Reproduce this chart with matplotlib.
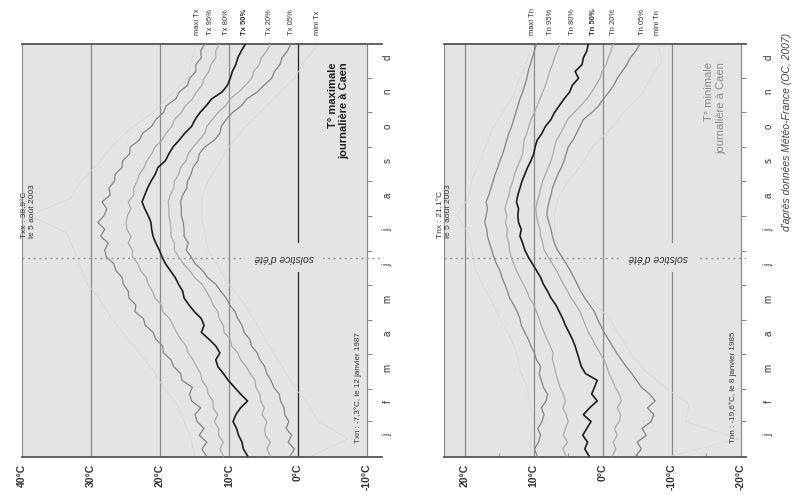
import matplotlib
matplotlib.use("Agg")
import matplotlib.pyplot as plt
import numpy as np

plt.rcParams["font.family"] = ["Liberation Sans", "DejaVu Sans"]

# ---- data: daily Tx / Tn percentiles in Caen ----
days = np.linspace(1, 365, 61)        # one reading about every 6 days
days_ext = np.linspace(1, 365, 25)    # extremes, one reading about every 15 days

months = ["j", "f", "m", "a", "m", "j", "j", "a", "s", "o", "n", "d"]
month_starts = [1, 32, 60, 91, 121, 152, 182, 213, 244, 274, 305, 335, 366]
solstice_day = 176

tx_95 = [13.3, 13.9, 13.2, 14.3, 13.6, 14.6, 14.9, 14.1, 15.4, 15.7, 15.3, 16.8, 17.0, 18.0, 18.4,
         19.5, 19.6, 20.6, 21.0, 22.1, 22.4, 23.6, 23.5, 24.5, 24.6, 25.3, 25.5, 26.4, 26.7, 27.8,
         28.0, 27.5, 28.6, 28.0, 29.0, 28.1, 27.7, 28.4, 27.2, 27.4, 26.6, 26.5, 25.5, 25.4, 24.4,
         24.3, 23.0, 22.5, 21.2, 20.6, 19.5, 19.1, 17.7, 17.2, 16.0, 15.7, 14.8, 14.8, 14.0, 14.1, 13.5]
tx_80 = [10.8, 11.3, 10.8, 11.5, 11.5, 12.1, 11.6, 12.3, 12.3, 13.0, 13.2, 13.9, 14.1, 14.7, 15.2,
         15.9, 16.2, 17.0, 17.6, 18.1, 18.6, 19.6, 19.8, 20.7, 21.1, 21.7, 22.0, 22.8, 23.2, 24.0,
         24.0, 24.6, 24.2, 24.8, 24.9, 24.7, 24.2, 24.6, 23.8, 23.8, 23.3, 23.0, 22.3, 21.9, 21.2,
         20.7, 19.7, 19.1, 18.3, 17.9, 16.9, 16.3, 15.3, 14.7, 13.9, 13.6, 12.9, 12.6, 11.9, 11.9, 11.4]
tx_50 = [7.3, 7.9, 8.1, 8.6, 8.9, 9.4, 9.0, 8.3, 7.3, 8.3, 9.2, 10.1, 10.8, 11.6, 11.9,
         11.3, 11.9, 12.9, 14.0, 13.6, 14.0, 15.0, 15.8, 16.5, 16.7, 17.3, 17.8, 18.5, 19.2, 19.7,
         20.1, 20.6, 21.0, 21.2, 21.3, 21.7, 22.2, 22.6, 22.2, 21.8, 21.3, 20.7, 20.3, 19.2, 18.7,
         18.1, 17.2, 16.4, 15.4, 14.9, 14.2, 13.3, 12.5, 11.0, 10.2, 9.8, 9.5, 9.0, 8.7, 8.2, 7.6]
tx_20 = [4.0, 4.5, 4.0, 4.7, 4.8, 4.5, 5.2, 4.9, 5.4, 5.5, 6.1, 6.2, 6.9, 7.5, 8.3,
         8.7, 9.6, 9.8, 10.7, 10.8, 11.4, 11.6, 12.3, 12.7, 13.3, 13.9, 15.0, 15.7, 16.6, 17.3,
         17.9, 17.9, 18.4, 18.4, 18.5, 18.7, 18.7, 18.8, 18.5, 18.0, 17.9, 17.3, 17.0, 16.2, 15.9,
         15.2, 14.3, 13.5, 13.2, 12.4, 11.6, 10.5, 9.8, 8.6, 7.6, 6.7, 6.4, 5.6, 5.3, 4.5, 4.0]
tx_05 = [1.1, 0.5, 1.4, 0.9, 1.7, 1.3, 1.9, 2.0, 2.5, 2.7, 3.5, 3.9, 4.5, 4.8, 5.5,
         5.9, 6.7, 7.0, 7.8, 8.1, 8.7, 9.1, 9.9, 10.4, 11.2, 11.9, 13.1, 13.8, 14.9, 15.5,
         16.2, 15.9, 16.5, 16.5, 16.6, 16.9, 16.9, 17.0, 16.7, 16.1, 16.0, 15.5, 15.2, 14.5, 14.3,
         13.5, 12.1, 11.3, 11.1, 10.4, 9.5, 8.2, 7.4, 5.9, 4.9, 3.8, 3.4, 2.6, 2.3, 1.5, 1.0]
tx_maxi = [15.0, 15.5, 16.5, 17.5, 19.5, 21.0, 23.0, 25.0, 27.0, 28.5, 30.5, 31.5, 32.5,
           33.5, 38.9, 33.0, 31.5, 29.0, 27.0, 24.5, 21.0, 18.5, 16.0, 15.5, 14.6]
tx_mini = [-2.0, -7.3, -3.0, -1.5, 0.5, 2.0, 3.5, 5.0, 6.5, 8.0, 10.0, 11.5, 13.0,
           13.5, 14.0, 14.0, 13.0, 11.5, 10.0, 8.0, 5.5, 3.0, 0.5, -1.0, -2.9]

tn_95 = [9.5, 9.9, 9.3, 9.0, 9.4, 8.8, 8.5, 8.9, 8.2, 8.0, 8.6, 8.9, 9.2, 9.0, 9.6,
         9.9, 10.4, 10.8, 11.3, 11.8, 12.0, 12.4, 12.9, 13.5, 13.8, 14.2, 14.6, 14.9, 15.4, 15.8,
         16.1, 16.4, 16.7, 16.8, 17.1, 16.9, 16.7, 16.9, 16.5, 16.2, 15.9, 15.6, 15.2, 14.9, 14.5,
         14.2, 13.9, 13.6, 13.2, 12.9, 12.6, 12.3, 12.0, 11.6, 11.3, 11.0, 10.8, 10.5, 10.2, 9.9, 9.6]
tn_80 = [5.3, 5.8, 5.1, 5.7, 5.4, 5.0, 5.3, 5.8, 5.4, 5.7, 6.2, 6.5, 6.8, 7.0, 7.3,
         7.2, 7.6, 8.1, 8.5, 8.9, 9.2, 9.6, 10.0, 10.6, 11.0, 11.5, 12.0, 12.5, 12.9, 13.3,
         13.5, 13.6, 13.9, 13.8, 14.1, 13.9, 14.2, 13.9, 13.6, 13.4, 13.0, 12.8, 12.4, 12.0, 11.6,
         11.5, 11.4, 11.0, 10.7, 10.4, 9.9, 9.5, 9.1, 8.7, 8.3, 8.0, 7.7, 7.3, 7.0, 6.6, 6.2]
tn_50 = [2.0, 2.6, 2.2, 2.9, 2.3, 1.7, 2.8, 1.9, 0.8, 1.6, 1.2, 0.8, 2.5, 3.1, 3.4,
         3.7, 4.0, 4.4, 4.9, 5.4, 5.8, 6.3, 6.8, 7.5, 8.0, 8.6, 9.0, 9.6, 10.2, 10.8,
         11.3, 11.6, 12.0, 11.8, 12.2, 12.3, 12.2, 12.5, 12.3, 12.0, 11.7, 11.3, 10.9, 10.4, 10.0,
         9.8, 9.5, 8.8, 8.3, 7.5, 7.0, 6.3, 5.6, 4.8, 4.4, 3.5, 4.0, 3.0, 2.8, 2.3, 2.1]
tn_20 = [-1.4, -1.9, -1.5, -2.1, -1.7, -2.4, -2.6, -2.1, -2.7, -2.4, -1.8, -1.4, -0.9, -0.6, -0.2,
         0.4, 1.0, 1.5, 2.1, 2.5, 2.9, 3.3, 3.9, 4.6, 5.1, 5.7, 6.2, 6.7, 7.3, 7.9,
         8.5, 8.7, 9.0, 9.1, 9.4, 9.6, 9.7, 9.5, 9.2, 9.0, 8.7, 8.3, 7.9, 7.5, 7.2,
         7.0, 6.7, 6.1, 5.6, 5.1, 4.2, 3.2, 2.3, 1.6, 1.0, 0.4, 0.1, -0.5, -0.8, -1.2, -1.5]
tn_05 = [-4.8, -5.6, -5.0, -6.3, -5.7, -7.0, -7.4, -6.5, -7.6, -6.8, -5.6, -4.9, -4.2, -3.4, -2.7,
         -2.0, -1.4, -0.8, -0.2, 0.3, 0.8, 1.2, 1.9, 2.6, 3.2, 3.7, 4.2, 4.7, 5.3, 5.9,
         6.6, 7.0, 7.3, 7.5, 7.8, 8.1, 8.0, 7.8, 7.5, 7.3, 6.9, 6.5, 6.0, 5.6, 5.3,
         5.0, 4.3, 3.8, 3.3, 2.8, 1.6, 0.6, -0.1, -0.9, -1.6, -2.1, -2.8, -3.5, -4.0, -4.8, -5.4]
tn_maxi = [10.5, 10.5, 10.0, 10.5, 11.0, 12.0, 12.5, 13.5, 15.0, 16.0, 17.5, 18.5, 19.0,
           19.5, 21.1, 19.5, 19.0, 18.0, 17.0, 16.0, 14.5, 13.0, 12.0, 11.0, 10.2]
tn_mini = [-10.0, -19.6, -12.0, -12.5, -9.0, -6.0, -4.0, -2.5, -1.0, 1.5, 3.5, 5.0, 6.5,
           7.0, 7.0, 6.5, 5.0, 3.0, 1.5, -1.0, -3.0, -5.5, -7.0, -8.5, -8.0]

tx_labels = ["maxi Tx", "Tx 95%", "Tx 80%", "Tx 50%", "Tx 20%", "Tx 05%", "mini Tx"]
tx_label_pos = [14.6, 12.6, 10.3, 7.7, 4.1, 0.9, -2.9]
tn_labels = ["maxi Tn", "Tn 95%", "Tn 80%", "Tn 50%", "Tn 20%", "Tn 05%", "mini Tn"]
tn_label_pos = [10.2, 7.6, 4.4, 1.4, -1.5, -5.8, -8.0]

PANEL = "#e4e4e4"
GRID = "#8c8c8c"


def draw_panel(ax, series, ext, xlim, shade, grid, dark_line, ticks, labels, label_pos):
    ax.set_xlim(*xlim)
    ax.set_ylim(0, 365)
    ax.set_facecolor("white")
    ax.axvspan(shade[0], shade[1], color=PANEL, zorder=0, lw=0)
    for g in grid:
        col = "#222222" if g == dark_line else GRID
        ax.axvline(g, color=col, lw=0.9, zorder=1)
    ax.axhline(solstice_day, color="#9a9a9a", lw=1.0, ls=(0, (1.5, 2.5)), zorder=1)

    # extremes (faint), then percentiles
    ax.plot(ext[0], days_ext, color="#d6d6d6", lw=0.5, zorder=2)
    ax.plot(ext[1], days_ext, color="#d6d6d6", lw=0.5, zorder=2)
    colors = ["#858585", "#ababab", "#1e1e1e", "#ababab", "#858585"]
    widths = [0.9, 0.9, 1.2, 0.9, 0.9]
    for s, c, w in zip(series, colors, widths):
        ax.plot(s, days, color=c, lw=w, zorder=3)

    # month ticks and letters on the right side
    ax.hlines(month_starts[1:-1], shade[1], shade[1] - 0.7, color=GRID, lw=0.8, clip_on=False)
    for i, m in enumerate(months):
        mid = (month_starts[i] + month_starts[i + 1]) / 2 + 3
        ax.text(label_pos["months"], mid, m, rotation=90, ha="center", va="center",
                fontsize=7, color="#333333", clip_on=False)

    # curve labels above the panel
    for lab, pos in zip(labels, label_pos["curves"]):
        bold = "bold" if "50%" in lab else "normal"
        ax.text(pos, 373, lab, rotation=90, ha="center", va="bottom", fontsize=5.5,
                fontweight=bold, color="#333333", clip_on=False)

    ax.set_xticks(ticks)
    ax.set_xticklabels([f"{t}°C" for t in ticks], rotation=90, fontsize=7.5,
                       fontweight="bold", color="#333333")
    ax.tick_params(axis="x", length=0, pad=5)
    ax.set_yticks([])
    for side in ["top", "bottom"]:
        ax.spines[side].set_color("#555555")
        ax.spines[side].set_linewidth(1.3)
    ax.spines["left"].set_color(GRID)
    ax.spines["right"].set_visible(False)


fig = plt.figure(figsize=(7.94, 4.95), dpi=100)
ax1 = fig.add_axes([22 / 794, 38 / 495, 360 / 794, 413 / 495])
ax2 = fig.add_axes([444 / 794, 38 / 495, 301.6 / 794, 413 / 495])

draw_panel(ax1, [tx_95, tx_80, tx_50, tx_20, tx_05], [tx_maxi, tx_mini],
           (40, -12.2), (40, -10), [30, 20, 10, 0, -10], 0,
           [40, 30, 20, 10, 0, -10], tx_labels,
           {"months": -13.0, "curves": tx_label_pos})
draw_panel(ax2, [tn_95, tn_80, tn_50, tn_20, tn_05], [tn_maxi, tn_mini],
           (23, -20.7), (23, -20), [20, 10, 0, -10, -20], None,
           [20, 10, 0, -10, -20], tn_labels,
           {"months": -24.0, "curves": tn_label_pos})
ax2.set_xticks([15, 5, -5, -15], minor=True)
ax2.tick_params(axis="x", which="minor", direction="in", length=3, color=GRID)

solstice_box = dict(boxstyle="square,pad=0.9", facecolor=PANEL, edgecolor="none")

# max temperature panel
ax1.text(39.1, 217, "Txx : 38,9°C\nle 5 août 2003", rotation=90, ha="center", va="center",
         fontsize=6, color="#333333", multialignment="left", zorder=5)
ax1.text(-8.7, 12, "Txn : -7,3°C, le 12 janvier 1987", rotation=90, ha="center",
         va="bottom", fontsize=5.8, color="#333333")
ax1.text(-5.9, 349, "T° maximale\njournalière à Caen", rotation=90, ha="center", va="top",
         fontsize=8, fontweight="bold", color="#222222", multialignment="right")
ax1.text(2.0, solstice_day, "solstice d'été", rotation=180, ha="center", va="center",
         fontsize=7.5, fontstyle="italic", color="#333333", bbox=solstice_box, zorder=4)

# min temperature panel
ax2.text(22.9, 217, "Tnx : 21,1°C\nle 5 août 2003", rotation=90, ha="center", va="center",
         fontsize=6, color="#333333", multialignment="left", clip_on=False)
ax2.text(-18.9, 12, "Tnn : -19,6°C, le 8 janvier 1985", rotation=90, ha="center",
         va="bottom", fontsize=5.8, color="#333333")
ax2.text(-16.3, 349, "T° minimale\njournalière à Caen", rotation=90, ha="center", va="top",
         fontsize=8, color="#8c8c8c", multialignment="right")
ax2.text(-8.0, solstice_day, "solstice d'été", rotation=180, ha="center", va="center",
         fontsize=7.5, fontstyle="italic", color="#333333", bbox=solstice_box, zorder=4)

fig.text(0.991, 0.933, "d'après données Météo-France (OC, 2007)", rotation=90,
         ha="center", va="top", fontsize=7.5, fontstyle="italic", color="#444444")

fig.savefig("out.png", dpi=100)
